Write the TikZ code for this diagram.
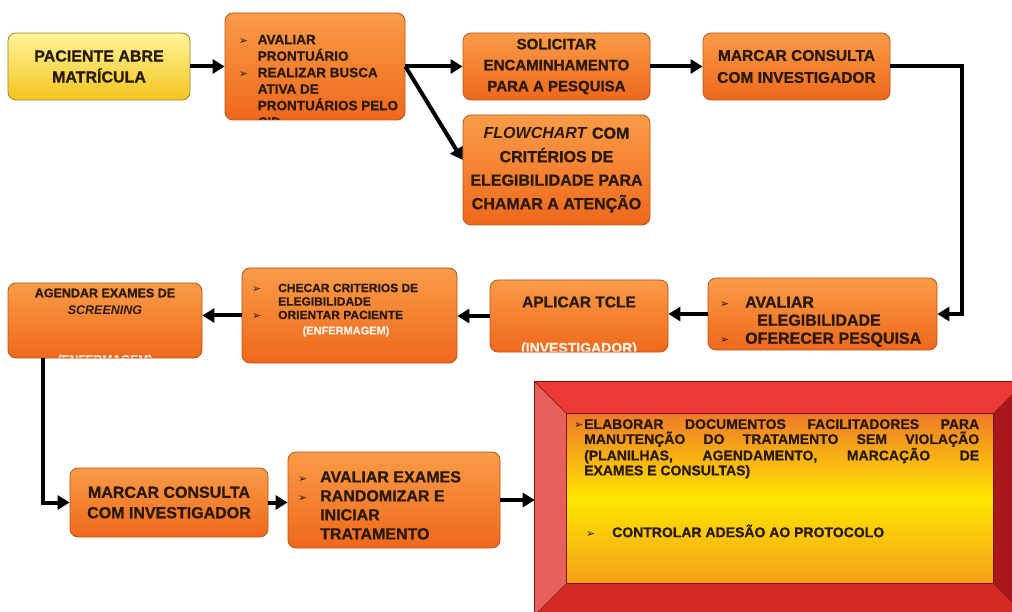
\documentclass[tikz,border=0pt]{standalone}
\usepackage{fontspec}
\setmainfont[BoldFeatures={FakeBold=1}]{Liberation Sans}
\newfontfamily\dvfont{DejaVu Sans}
\usetikzlibrary{arrows.meta,calc}
\definecolor{otop}{HTML}{FA9C48}
\definecolor{obot}{HTML}{EF681C}
\definecolor{obord}{HTML}{B8551C}
\definecolor{ytop}{HTML}{FFF59A}
\definecolor{ybot}{HTML}{F5C41E}
\definecolor{ybord}{HTML}{9C8430}
\definecolor{txt}{HTML}{2A1A0C}
\definecolor{wtxt}{HTML}{FFF2E6}
\definecolor{rtop}{HTML}{EE3A36}
\definecolor{rleft}{HTML}{E8605C}
\definecolor{rright}{HTML}{A8181A}
\definecolor{rbot}{HTML}{D42A22}
\definecolor{rbord}{HTML}{7A1010}
\definecolor{itop}{HTML}{F07A28}
\definecolor{imid}{HTML}{FFE600}
\definecolor{ibot}{HTML}{F4A01A}
\newcommand{\bul}{{\dvfont\fontsize{11}{11}\selectfont ➢}}
\begin{document}
\begin{tikzpicture}[x=1pt,y=-1pt,
  obox/.style={draw=obord, line width=0.8pt, rounded corners=8pt, top color=otop, bottom color=obot, inner sep=0pt, text=txt, align=center, font=\bfseries\fontsize{15.5}{21}\selectfont},
  ybox/.style={obox, draw=ybord, top color=ytop, bottom color=ybot},
  arr/.style={line width=4pt, draw=black, -{Triangle[length=12pt,width=14pt]}},
  tx/.style={inner sep=0pt, text=txt, align=left}]
\useasboundingbox (0,0) rectangle (1012,612);
\clip (0,0) rectangle (1012,612);
\fill[white] (0,0) rectangle (1012,612);

% top row
\node[ybox, minimum width=182pt, minimum height=67pt, font=\bfseries\fontsize{16}{21}\selectfont] (p1) at (99,66.5) {PACIENTE ABRE\\MATRÍCULA};
\node[obox, minimum width=180pt, minimum height=107pt,
  path picture={\node[tx, anchor=north west, font=\bfseries\fontsize{13.5}{16.5}\selectfont] at ([shift={(3pt,-14pt)}]path picture bounding box.north west)
  {\makebox[19pt][l]{\bul}AVALIAR\\\hspace*{19pt}PRONTUÁRIO\\\makebox[19pt][l]{\bul}REALIZAR BUSCA\\\hspace*{19pt}ATIVA DE\\\hspace*{19pt}PRONTUÁRIOS PELO\\\hspace*{19pt}CID};}] (p2) at (315,66.5) {};
\node[obox, minimum width=187pt, minimum height=67pt, font=\bfseries\fontsize{15}{21}\selectfont] (sol) at (556.5,66.5) {SOLICITAR\\ENCAMINHAMENTO\\PARA A PESQUISA};
\node[obox, minimum width=187pt, minimum height=67pt, font=\bfseries\fontsize{15.5}{22}\selectfont] (mc1) at (796.5,66.5) {MARCAR CONSULTA\\COM INVESTIGADOR};
\node[obox, minimum width=187pt, minimum height=110pt, font=\bfseries\fontsize{16}{23.5}\selectfont] (flow) at (556.5,170) {\textit{FLOWCHART} COM\\CRITÉRIOS DE\\ELEGIBILIDADE PARA\\CHAMAR A ATENÇÃO};

% middle row
\node[obox, minimum width=229pt, minimum height=72pt] (ae) at (822.5,314) {};
\node[tx, anchor=north west, font=\bfseries\fontsize{16}{18}\selectfont] (aet) at (720,296.5)
  {\makebox[25pt][l]{\bul}AVALIAR\\\hspace*{37pt}ELEGIBILIDADE\\\makebox[25pt][l]{\bul}OFERECER PESQUISA};
\node[obox, minimum width=178pt, minimum height=72pt,
  path picture={\node[text=txt, inner sep=0pt, font=\bfseries\fontsize{15.5}{18}\selectfont] at ([shift={(0pt,14pt)}]path picture bounding box.center) {APLICAR TCLE};
  \node[text=wtxt, inner sep=0pt, font=\bfseries\fontsize{14}{18}\selectfont] at ([shift={(0pt,-33pt)}]path picture bounding box.center) {(INVESTIGADOR)};}] (tcle) at (579,316) {};
\node[obox, minimum width=215pt, minimum height=95pt] (chec) at (349.5,315.5) {};
\node[tx, anchor=north west, font=\bfseries\fontsize{12}{13.5}\selectfont] (chect) at (252,283.5)
  {\makebox[26pt][l]{\bul}CHECAR CRITERIOS DE\\\hspace*{26pt}ELEGIBILIDADE\\\makebox[26pt][l]{\bul}ORIENTAR PACIENTE};
\node[text=wtxt, inner sep=0pt, font=\bfseries\fontsize{11}{13}\selectfont] (checw) at (346,331.5) {(ENFERMAGEM)};
\node[obox, minimum width=194pt, minimum height=75pt,
  path picture={\node[text=txt, inner sep=0pt, align=center, font=\bfseries\fontsize{12.5}{17}\selectfont] at ([shift={(0pt,19pt)}]path picture bounding box.center) {AGENDAR EXAMES DE\\\textit{SCREENING}};
  \node[text=wtxt, inner sep=0pt, font=\bfseries\fontsize{12}{14}\selectfont] at ([shift={(0pt,-40pt)}]path picture bounding box.center) {(ENFERMAGEM)};}] (agen) at (105,320.5) {};

% bottom row
\node[obox, minimum width=198pt, minimum height=69pt, font=\bfseries\fontsize{16}{20.5}\selectfont] (mc2) at (169,502.5) {MARCAR CONSULTA\\COM INVESTIGADOR};
\node[obox, minimum width=212pt, minimum height=96pt] (aex) at (394,500) {};
\node[tx, anchor=north west, font=\bfseries\fontsize{16}{19}\selectfont] (aext) at (298,471)
  {\makebox[22pt][l]{\bul}AVALIAR EXAMES\\\makebox[22pt][l]{\bul}RANDOMIZAR E\\\hspace*{22pt}INICIAR\\\hspace*{22pt}TRATAMENTO};

% bevelled red box
\node[draw=rbord, line width=0.6pt, minimum width=490pt, minimum height=233pt, inner sep=0pt] (red) at (780,498.5) {};
\coordinate (iNW) at ($(red.north west)+(32,32)$);
\coordinate (iNE) at ($(red.north east)+(-32,32)$);
\coordinate (iSE) at ($(red.south east)+(-32,-32)$);
\coordinate (iSW) at ($(red.south west)+(32,-32)$);
\fill[rtop] (red.north west) -- (red.north east) -- (iNE) -- (iNW) -- cycle;
\fill[rleft] (red.north west) -- (iNW) -- (iSW) -- (red.south west) -- cycle;
\fill[rright] (red.north east) -- (red.south east) -- (iSE) -- (iNE) -- cycle;
\fill[rbot] (red.south west) -- (iSW) -- (iSE) -- (red.south east) -- cycle;
\shade[top color=itop, bottom color=ibot, middle color=imid] (iNW) rectangle (iSE);
\draw[rbord, line width=0.6pt] (iNW) rectangle (iSE);
\draw[rbord, line width=0.6pt] (red.north west) -- (iNW) (red.north east) -- (iNE) (red.south west) -- (iSW) (red.south east) -- (iSE);
\draw[rbord, line width=0.8pt] (red.north west) rectangle (red.south east);
\node[tx, anchor=north west, font=\bfseries\fontsize{14}{15}\selectfont] (redt1) at (574,419)
  {\makebox[10pt][l]{\bul}\makebox[395pt][s]{ELABORAR DOCUMENTOS FACILITADORES PARA}\\
   \hspace*{10pt}\makebox[395pt][s]{MANUTENÇÃO DO TRATAMENTO SEM VIOLAÇÃO}\\
   \hspace*{10pt}\makebox[395pt][s]{(PLANILHAS, AGENDAMENTO, MARCAÇÃO DE}\\
   \hspace*{10pt}EXAMES E CONSULTAS)};
\node[tx, anchor=west, font=\bfseries\fontsize{14}{15}\selectfont] (redt2) at (586,531)
  {\makebox[26pt][l]{\bul}CONTROLAR ADESÃO AO PROTOCOLO};

% connectors
\draw[arr] (p1) -- (p2);
\draw[arr] (p2) -- (sol);
\draw[arr] (p2.east) -- ([yshift=10pt]flow.west);
\draw[arr] (sol) -- (mc1);
\draw[arr] (mc1.east) -- ++(72,0) |- (ae.east);
\draw[arr] (ae.west) -- (ae.west -| tcle.east);
\draw[arr] (tcle.west) -- (tcle.west -| chec.east);
\draw[arr] (chec.west) -- (chec.west -| agen.east);
\draw[arr] ([xshift=-62pt]agen.south) |- (mc2.west);
\draw[arr] (mc2.east) -- (mc2.east -| aex.west);
\draw[arr] (aex.east) -- (aex.east -| red.west);
\end{tikzpicture}
\end{document}
